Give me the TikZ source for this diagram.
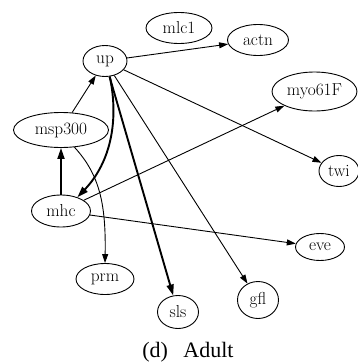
\documentclass[tikz,border=0pt]{standalone}
\usepackage{fontspec}
\newfontfamily\capfont{Liberation Serif}
\usepackage{tikz}
\usetikzlibrary{shapes.geometric,arrows.meta}

\begin{document}
\begin{tikzpicture}[x=1pt,y=-1pt,
  gene/.style={draw,ellipse,line width=0.9pt,inner sep=0pt,font=\fontsize{17.3}{19}\selectfont},
  reg/.style={line width=0.9pt,-{Triangle[length=9pt,width=6pt]}},
  strong/.style={line width=1.9pt,-{Triangle[length=11pt,width=7pt]}}]
\useasboundingbox (0,0) rectangle (357,362);
% genes
\node[gene,minimum width=44pt,minimum height=31pt] (up) at (105,61) {up};
\node[gene,minimum width=66pt,minimum height=31pt] (mlc1) at (179,28) {mlc1};
\node[gene,minimum width=61pt,minimum height=31pt] (actn) at (258,40) {actn};
\node[gene,minimum width=85pt,minimum height=39pt] (myo61F) at (314.5,91.5) {myo61F};
\node[gene,minimum width=40pt,minimum height=31pt] (twi) at (339,171) {twi};
\node[gene,minimum width=95pt,minimum height=35pt] (msp300) at (61,130) {msp300};
\node[gene,minimum width=59pt,minimum height=32pt] (mhc) at (61,211) {mhc};
\node[gene,minimum width=58pt,minimum height=31pt] (prm) at (105,279) {prm};
\node[gene,minimum width=41pt,minimum height=33pt] (sls) at (178,312) {sls};
\node[gene,minimum width=41pt,minimum height=37pt] (gfl) at (258,300) {gfl};
\node[gene,minimum width=49pt,minimum height=27pt] (eve) at (320,247) {eve};
% edges
\draw[reg] (up) -- (actn);
\draw[reg] (up) -- (twi);
\draw[reg] (up) -- (gfl);
\draw[strong] (up) -- (sls);
\draw[strong] (up.-73) .. controls (119,120) and (111,162) .. (mhc.40);
\draw[reg] (msp300) -- (up);
\draw[strong] (mhc) -- (msp300);
\draw[reg] (mhc) -- (myo61F);
\draw[reg] (mhc) -- (eve);
\draw[reg] (msp300.-52) .. controls (100,175) and (106,205) .. (prm.north);
% caption
\node[anchor=base,font=\capfont\fontsize{22}{24}\selectfont,inner sep=0pt] (cap) at (188,357) {(d)\hspace{0.7em}Adult};
\end{tikzpicture}
\end{document}
